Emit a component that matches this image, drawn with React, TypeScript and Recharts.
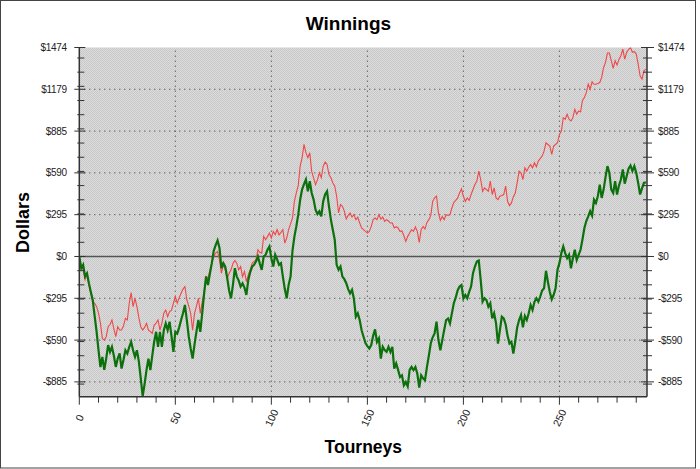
import React from 'react';
import { LineChart, Line, XAxis, YAxis, CartesianGrid, ReferenceLine } from 'recharts';

// Cumulative winnings (red) per tourney
const redSeries = [
  0, -70, -94, -165, -130, -200, -260, -319, -330, -354,
  -400, -470, -578, -590, -566, -496, -480, -448, -510, -566,
  -496, -519, -519, -490, -437, -448, -330, -255, -354, -295,
  -354, -430, -496, -519, -500, -472, -519, -530, -543, -484,
  -470, -448, -519, -472, -400, -378, -425, -389, -378, -330,
  -283, -330, -290, -260, -230, -212, -307, -350, -401, -519,
  -401, -350, -295, -401, -320, -248, -142, -153, -100, -47,
  0, 24, 35, -24, -118, -59, -94, -153, -120, -94,
  -50, -28, -47, -94, -71, -142, -106, -177, -130, -94,
  -47, -35, -24, 47, 30, 24, 142, 118, 140, 165,
  130, 177, 153, 189, 153, 170, 189, 94, 130, 189,
  230, 271, 389, 448, 500, 637, 696, 791, 732, 696,
  732, 600, 555, 507, 540, 590, 555, 637, 666, 649,
  578, 555, 520, 496, 425, 307, 366, 354, 320, 264,
  290, 307, 278, 295, 260, 278, 236, 201, 190, 177,
  165, 177, 212, 260, 271, 260, 295, 264, 278, 248,
  260, 250, 236, 236, 201, 210, 201, 177, 180, 146,
  106, 142, 165, 189, 177, 208, 177, 99, 189, 212,
  193, 240, 260, 288, 389, 413, 425, 307, 255, 283,
  260, 295, 290, 295, 342, 380, 396, 413, 448, 477,
  425, 389, 413, 396, 437, 472, 507, 531, 602, 543,
  460, 484, 472, 460, 531, 437, 484, 413, 401, 425,
  430, 437, 496, 389, 359, 378, 420, 448, 519, 602,
  590, 543, 625, 602, 630, 649, 625, 661, 632, 673,
  690, 708, 743, 802, 790, 779, 720, 779, 790, 802,
  861, 885, 979, 968, 1003, 968, 956, 979, 1038, 1003,
  1027, 1020, 1100, 1121, 1156, 1215, 1180, 1232, 1215, 1215,
  1220, 1227, 1263, 1333, 1369, 1435, 1435, 1381, 1326, 1381,
  1350, 1390, 1416, 1463, 1392, 1440, 1460, 1474, 1440, 1444,
  1428, 1357, 1274, 1251, 1310, 1322,
];

// Second cumulative series (green)
const greenSeries = [
  0, -83, -59, -140, -118, -189, -250, -307, -420, -530,
  -661, -780, -708, -800, -720, -625, -673, -637, -700, -779,
  -720, -684, -790, -730, -661, -684, -640, -602, -661, -708,
  -661, -740, -860, -985, -900, -800, -720, -802, -700, -600,
  -531, -637, -531, -637, -520, -472, -519, -460, -560, -673,
  -531, -543, -500, -448, -400, -342, -450, -566, -650, -720,
  -620, -530, -448, -531, -400, -260, -142, -201, -120, -47,
  40, 80, 113, 60, -83, -47, -71, -150, -240, -295,
  -200, -83, -142, -170, -212, -190, -220, -271, -165, -110,
  -71, -59, -35, 0, -50, -94, 0, 12, 47, 71,
  -12, -71, 12, -20, -59, -47, -142, -230, -295, -200,
  -142, 40, 140, 212, 295, 400, 472, 510, 543, 460,
  531, 448, 401, 330, 300, 319, 283, 389, 437, 460,
  354, 260, 189, 118, -59, -94, -71, -142, -160, -189,
  -230, -260, -236, -300, -425, -401, -448, -520, -566, -610,
  -632, -649, -625, -560, -514, -602, -578, -720, -637, -660,
  -673, -637, -673, -637, -791, -755, -800, -850, -838, -909,
  -885, -916, -800, -779, -802, -779, -826, -925, -838, -860,
  -873, -780, -700, -614, -570, -543, -460, -590, -661, -590,
  -519, -448, -437, -472, -401, -330, -290, -240, -212, -201,
  -295, -271, -295, -250, -212, -118, -71, -35, -28, -165,
  -319, -295, -307, -354, -330, -437, -401, -472, -614, -520,
  -425, -437, -480, -560, -614, -602, -684, -600, -500, -448,
  -413, -500, -420, -448, -400, -342, -378, -320, -295, -319,
  -283, -240, -224, -101, -180, -250, -302, -270, -224, -94,
  -47, 24, 71, 24, -12, 12, -83, -12, 47, -24,
  12, 47, 120, 201, 250, 283, 319, 288, 401, 378,
  425, 507, 413, 472, 560, 637, 590, 472, 448, 531,
  437, 500, 543, 614, 514, 566, 620, 642, 602, 637,
  590, 519, 437, 480, 519, 524,
];

const yDomain = [-989, 1474];
const xDomain = [0, 295.6];

const yMajorTicks = [-884.5, -589.7, -294.8, 0, 294.8, 589.7, 884.5, 1179.4, 1474];
const yMajorLabels = ['-$885', '-$590', '-$295', '$0', '$295', '$590', '$885', '$1179', '$1474'];
const yMinorTicks = [-900, -800, -700, -600, -500, -400, -300, -200, -100, 100, 200, 300, 400, 500, 600, 700, 800, 900, 1000, 1100, 1200, 1300, 1400];
const xMajorTicks = [0, 50, 100, 150, 200, 250];
const xMinorTicks = [0, 10, 20, 30, 40, 50, 60, 70, 80, 90, 100, 110, 120, 130, 140, 150, 160, 170, 180, 190, 200, 210, 220, 230, 240, 250, 260, 270, 280, 290];
const yGridValues = [-884.5, -589.7, -294.8, 294.8, 589.7, 884.5, 1179.4];
const xGridValues = [50, 100, 150, 200, 250];

const chartTitle = 'Winnings';
const xTitle = 'Tourneys';
const yTitle = 'Dollars';

const rows = redSeries.map((v, i) => ({ t: i, red: v, green: greenSeries[i] }));
const yAllTicks = [...yMajorTicks, ...yMinorTicks].sort((a, b) => a - b);

const FONT = '"Liberation Sans", Arial, sans-serif';

const majorIndex = (v: number) => yMajorTicks.findIndex((m) => Math.abs(m - v) < 0.01);

const LeftTick = (props: any) => {
  const { x, y, payload } = props;
  const idx = majorIndex(payload.value);
  const major = idx >= 0;
  return (
    <g>
      <line x1={x - (major ? 5 : 2)} x2={x + (major ? 6 : 5)} y1={y} y2={y} stroke="#333" strokeWidth={1} />
      {major && (
        <text x={x - 12.5} y={y} textAnchor="end" dominantBaseline="central" fontSize={10} fontFamily={FONT} fill="#222" letterSpacing={-0.3}>
          {yMajorLabels[idx]}
        </text>
      )}
    </g>
  );
};

const RightTick = (props: any) => {
  const { x, y, payload } = props;
  const idx = majorIndex(payload.value);
  const major = idx >= 0;
  return (
    <g>
      <line x1={x - (major ? 6 : 4)} x2={x + (major ? 7 : 5)} y1={y} y2={y} stroke="#333" strokeWidth={1} />
      {major && (
        <text x={x + 11} y={y} textAnchor="start" dominantBaseline="central" fontSize={10} fontFamily={FONT} fill="#222" letterSpacing={-0.3}>
          {yMajorLabels[idx]}
        </text>
      )}
    </g>
  );
};

const BottomTick = (props: any) => {
  const { x, y, payload } = props;
  const major = xMajorTicks.includes(payload.value);
  const cy = y + 21;
  return (
    <g>
      <line x1={x} x2={x} y1={y} y2={y + (major ? 8 : 6)} stroke="#333" strokeWidth={1} />
      {major && (
        <text x={x} y={cy} textAnchor="middle" dominantBaseline="central" fontSize={10.5} fontFamily={FONT} fill="#222" transform={`rotate(-65 ${x} ${cy})`}>
          {payload.value}
        </text>
      )}
    </g>
  );
};

const TopTick = (props: any) => {
  const { x, y } = props;
  return <line x1={x} x2={x} y1={y} y2={y + 4} stroke="#555" strokeWidth={1} />;
};

export default function App() {
  return (
    <div style={{ position: 'absolute', left: 0, top: 0, width: 700, height: 469, background: '#fff', overflow: 'hidden' }}>
      <LineChart width={700} height={469} data={rows} margin={{ top: 47.5, right: 8, bottom: 32.3, left: 19.3 }}>
        <defs>
          <pattern id="bgDots" width="2" height="2" patternUnits="userSpaceOnUse">
            <rect width="2" height="2" fill="#dcdcdc" />
            <rect width="1" height="1" fill="#c8c8c8" />
            <rect x="1" y="1" width="1" height="1" fill="#c8c8c8" />
          </pattern>
        </defs>
        <CartesianGrid yAxisId="left" horizontal={false} vertical={false} fill="url(#bgDots)" stroke="none" />
        <XAxis
          dataKey="t"
          type="number"
          domain={xDomain}
          allowDataOverflow
          ticks={xMinorTicks}
          interval={0}
          height={40}
          tickSize={0}
          tickMargin={0}
          tickLine={false}
          tick={<BottomTick />}
          axisLine={{ stroke: '#333', strokeWidth: 1.5 }}
        />
        <XAxis
          xAxisId="top"
          orientation="top"
          dataKey="t"
          type="number"
          domain={xDomain}
          allowDataOverflow
          ticks={xMinorTicks}
          interval={0}
          height={0}
          tickSize={0}
          tickMargin={0}
          tickLine={false}
          tick={<TopTick />}
          axisLine={{ stroke: '#888', strokeWidth: 1.5 }}
        />
        <YAxis
          yAxisId="left"
          type="number"
          domain={yDomain}
          allowDataOverflow
          ticks={yAllTicks}
          interval={0}
          width={60}
          tickSize={0}
          tickMargin={0}
          tickLine={false}
          tick={<LeftTick />}
          axisLine={{ stroke: '#333', strokeWidth: 1.5 }}
        />
        <YAxis
          yAxisId="right"
          orientation="right"
          type="number"
          domain={yDomain}
          allowDataOverflow
          ticks={yAllTicks}
          interval={0}
          width={45}
          tickSize={0}
          tickMargin={0}
          tickLine={false}
          tick={<RightTick />}
          axisLine={{ stroke: '#333', strokeWidth: 1.5 }}
        />
        {yGridValues.map((v) => (
          <ReferenceLine key={'h' + v} yAxisId="left" y={v} stroke="#333" strokeDasharray="1 4" strokeWidth={1} />
        ))}
        {xGridValues.map((v) => (
          <ReferenceLine key={'v' + v} yAxisId="left" x={v} stroke="#333" strokeDasharray="1 4" strokeWidth={1} />
        ))}
        <ReferenceLine yAxisId="left" y={0} stroke="#555" strokeWidth={1.5} />
        <Line yAxisId="left" dataKey="red" stroke="#f04848" strokeWidth={1.1} dot={false} isAnimationActive={false} />
        <Line yAxisId="left" dataKey="green" stroke="#0c700c" strokeWidth={2.2} dot={false} isAnimationActive={false} />
      </LineChart>
      <svg width={700} height={469} style={{ position: 'absolute', left: 0, top: 0, pointerEvents: 'none' }}>
        <text x={348.5} y={29.5} textAnchor="middle" fontSize={19} fontWeight="bold" fontFamily={FONT} fill="#000">
          {chartTitle}
        </text>
        <text x={0} y={0} transform="translate(28.5 222.5) rotate(-90)" textAnchor="middle" fontSize={18} fontWeight="bold" fontFamily={FONT} fill="#000">
          {yTitle}
        </text>
        <text x={363.3} y={452.5} textAnchor="middle" fontSize={17.5} fontWeight="bold" fontFamily={FONT} fill="#000">
          {xTitle}
        </text>
        <rect x={0.5} y={0.5} width={695} height={467.5} fill="none" stroke="#444" strokeWidth={1} />
      </svg>
    </div>
  );
}
